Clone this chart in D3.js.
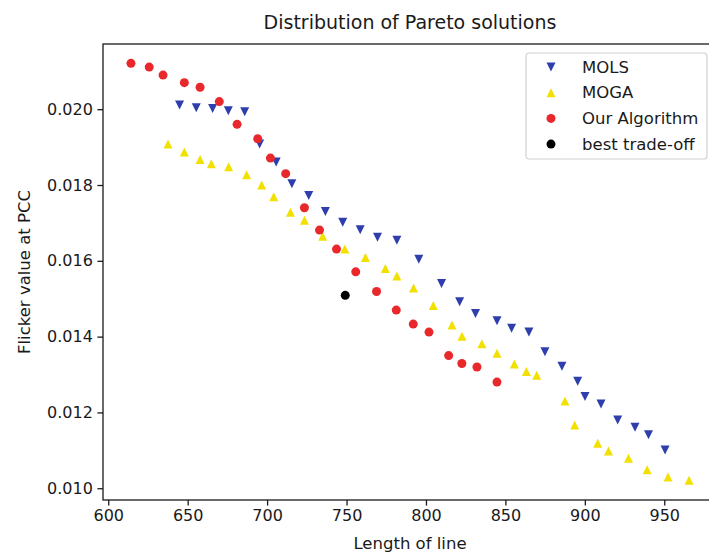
<!DOCTYPE html>
<html>
<head>
<meta charset="utf-8">
<script src="https://cdn.jsdelivr.net/npm/d3@7"></script>
<style>
  body { margin: 0; background: #fff; }
  svg { display: block; font-family: "DejaVu Sans", sans-serif; }
</style>
</head>
<body>
<div id="pareto"></div>
<script>
// Values
const molsX = [644.9, 655.4, 665.7, 675.6, 685.9, 695.3, 705.7, 715.6, 726.2, 736.7,
    747.6, 758.6, 769.5, 781.7, 795.5, 809.8, 821.2, 831.2, 844.7, 853.9,
    864.8, 874.9, 885.6, 895.5, 900.1, 910.2, 920.7, 931.6, 940.1, 950.5];
const molsY = [0.02011, 0.02004, 0.02002, 0.01996, 0.01993, 0.01908, 0.01861, 0.01803, 0.01772, 0.01730,
    0.01702, 0.01682, 0.01662, 0.01654, 0.01604, 0.01540, 0.01492, 0.01461, 0.01442, 0.01422,
    0.01412, 0.01360, 0.01322, 0.01282, 0.01242, 0.01222, 0.01180, 0.01161, 0.01141, 0.01101];

const mogaX = [637.6, 647.9, 657.8, 664.9, 675.8, 687.1, 696.6, 704.2, 714.7, 723.5,
    735.0, 748.9, 761.9, 774.4, 781.7, 792.2, 804.6, 816.4, 822.7, 835.2,
    844.7, 855.6, 863.2, 869.7, 887.5, 893.6, 908.1, 914.9, 927.5, 939.2,
    952.4, 965.6];
const mogaY = [0.01908, 0.01887, 0.01867, 0.01856, 0.01848, 0.01827, 0.01800, 0.01769, 0.01728, 0.01707,
    0.01665, 0.01631, 0.01609, 0.01580, 0.01560, 0.01528, 0.01482, 0.01431, 0.01401, 0.01381,
    0.01356, 0.01328, 0.01308, 0.01298, 0.01230, 0.01167, 0.01119, 0.01098, 0.01079, 0.01049,
    0.01030, 0.01021];

const oursX = [614.3, 625.8, 634.5, 647.9, 657.8, 669.9, 681.1, 694.1, 702.1, 711.7,
    723.5, 733.0, 743.7, 755.8, 768.9, 781.3, 792.0, 801.9, 814.3, 822.6,
    832.1, 844.7];
const oursY = [0.02121, 0.02111, 0.02090, 0.02070, 0.02058, 0.02020, 0.01960, 0.01922, 0.01871, 0.01830,
    0.01740, 0.01681, 0.01631, 0.01571, 0.01519, 0.01470, 0.01433, 0.01412, 0.01350, 0.01329,
    0.01320, 0.01280];

const bestX = [749.2];
const bestY = [0.01509];

const xTicks = [600, 650, 700, 750, 800, 850, 900, 950];
const yTicks = [0.010, 0.012, 0.014, 0.016, 0.018, 0.020];
const seriesNames = ["MOLS", "MOGA", "Our Algorithm", "best trade-off"];

// Dimensions and margins (the right edge of the frame falls just outside the picture)
const margin = {top: 44, right: -8, bottom: 54, left: 103},
    width = 709 - margin.left - margin.right,
    height = 554 - margin.top - margin.bottom;

const svg = d3.select("#pareto")
    .append("svg")
        .attr("width", 709)
        .attr("height", 554)
    .append("g")
        .attr("transform", "translate(" + margin.left + "," + margin.top + ")");

const x = d3.scaleLinear()
    .domain([596.7, 983.2])
    .range([0, width]);

const y = d3.scaleLinear()
    .domain([0.00969, 0.02172])
    .range([height, 0]);

// marker shapes, matplotlib style (centred on their box)
const half = 4.5;
const shapes = {
    down: "M0," + half + "L" + (-half) + "," + (-half) + "L" + half + "," + (-half) + "Z",
    up: "M0," + (-half) + "L" + (-half) + "," + half + "L" + half + "," + half + "Z",
    dot: d3.symbol().type(d3.symbolCircle).size(Math.PI * half * half)()
};

const series = [
    {name: seriesNames[0], xs: molsX, ys: molsY, shape: "down", color: "#2e3fad"},
    {name: seriesNames[1], xs: mogaX, ys: mogaY, shape: "up", color: "#f2e100"},
    {name: seriesNames[2], xs: oursX, ys: oursY, shape: "dot", color: "#e8282b"},
    {name: seriesNames[3], xs: bestX, ys: bestY, shape: "dot", color: "#000000"}
];

// X axis
const xAxis = svg.append("g")
    .attr("transform", "translate(0," + height + ")")
    .call(d3.axisBottom(x).tickValues(xTicks).tickSize(5.6).tickPadding(4.5).tickFormat(d3.format("d")));

// Y axis
const yAxis = svg.append("g")
    .call(d3.axisLeft(y).tickValues(yTicks).tickSize(5.6).tickPadding(4.5).tickFormat(d3.format(".3f")));

[xAxis, yAxis].forEach(function(a) {
    a.select(".domain").remove();
    a.selectAll(".tick line").attr("stroke", "#1a1a1a").attr("stroke-width", 1.3);
    a.selectAll(".tick text")
        .attr("fill", "#1a1a1a")
        .style("font-size", "16px")
        .style("font-family", "'DejaVu Sans', sans-serif");
});

// frame
svg.append("rect")
    .attr("x", 0)
    .attr("y", 0)
    .attr("width", width)
    .attr("height", height)
    .attr("fill", "none")
    .attr("stroke", "#1a1a1a")
    .attr("stroke-width", 1.3);

// points
series.forEach(function(s) {
    svg.append("g")
        .selectAll("path")
        .data(s.xs.map(function(v, i) { return [v, s.ys[i]]; }))
        .join("path")
            .attr("d", shapes[s.shape])
            .attr("transform", function(d) { return "translate(" + x(d[0]) + "," + y(d[1]) + ")"; })
            .attr("fill", s.color);
});

// Title
svg.append("text")
    .attr("x", width / 2)
    .attr("y", -15)
    .style("text-anchor", "middle")
    .style("font-size", "19px")
    .attr("fill", "#1a1a1a")
    .text("Distribution of Pareto solutions");

// X axis label
svg.append("text")
    .attr("x", width / 2)
    .attr("y", height + 49)
    .style("text-anchor", "middle")
    .style("font-size", "16.5px")
    .attr("fill", "#1a1a1a")
    .text("Length of line");

// Y axis label
svg.append("text")
    .attr("transform", "rotate(-90)")
    .attr("x", -height / 2)
    .attr("y", -margin.left + 30)
    .style("text-anchor", "middle")
    .style("font-size", "16.5px")
    .attr("fill", "#1a1a1a")
    .text("Flicker value at PCC");

// Legend
const legend = svg.append("g")
    .attr("transform", "translate(" + (526 - margin.left) + "," + (53 - margin.top) + ")");

legend.append("rect")
    .attr("width", 181)
    .attr("height", 106)
    .attr("rx", 3)
    .attr("fill", "#fff")
    .attr("fill-opacity", 0.8)
    .attr("stroke", "#d0d0d0")
    .attr("stroke-width", 1.2);

series.forEach(function(s, index) {
    legend.append("path")
        .attr("d", shapes[s.shape])
        .attr("transform", "translate(25," + (14 + index * 25.7) + ")")
        .attr("fill", s.color);

    legend.append("text")
        .attr("x", 56)
        .attr("y", 14 + index * 25.7)
        .attr("dy", ".35em")
        .style("font-size", "16.5px")
        .attr("fill", "#1a1a1a")
        .text(s.name);
});
</script>
</body>
</html>
